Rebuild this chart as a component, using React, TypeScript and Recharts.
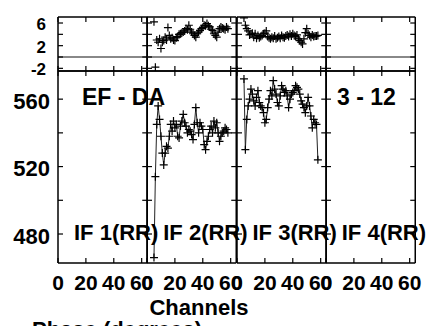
import React from "react";
import { ComposedChart, Line, XAxis, YAxis, ReferenceLine } from "recharts";

// channel axis (same for every IF)
const channels = [
  5, 6, 7, 8, 9, 10, 11, 12, 13, 14, 15, 16, 17, 18, 19, 20, 21, 22, 23, 24, 25, 26, 27, 28, 29, 30, 31,
  32, 33, 34, 35, 36, 37, 38, 39, 40, 41, 42, 43, 44, 45, 46, 47, 48, 49, 50, 51, 52, 53, 54, 55, 56, 57, 58,
];

// IF 2 amplitude / phase
const if2Amp = [
  466, 514, 545, 556, 548, 538, 528, 521, 528, 532, 531, 538, 545, 541, 547, 543, 545, 538, 537, 544,
  547, 551, 546, 544, 540, 542, 541, 539, 536, 545, 555, 546, 540, 546, 544, 542, 533, 530, 535, 538,
  542, 544, 540, 547, 543, 546, 540, 535, 538, 540, 541, 543, 542, 540,
];
const if2Phase = [
  6.2, -1.8, 3.0, 2.6, 3.2, 1.5, 2.6, 2.9, 3.5, 3.0, 5.2, 3.8, 3.2, 3.4, 3.0, 2.9, 3.4, 3.6, 4.0, 4.1,
  4.3, 4.4, 4.6, 5.0, 4.8, 5.6, 4.9, 4.4, 4.1, 3.8, 3.5, 4.1, 4.4, 4.7, 5.0, 5.2, 5.6, 5.5, 5.9, 5.5,
  5.3, 4.9, 4.7, 4.1, 3.8, 3.5, 4.4, 5.0, 5.3, 5.1, 5.0, 4.8, 5.3, 5.0,
];

// IF 3 amplitude / phase
const if3Amp = [
  572, 530, 548, 556, 560, 566, 563, 559, 556, 561, 565, 558, 556, 555, 552, 546, 548, 555, 560, 565,
  562, 571, 566, 563, 558, 556, 562, 568, 566, 564, 565, 562, 555, 560, 563, 564, 565, 568, 567, 566,
  563, 559, 557, 555, 552, 556, 561, 556, 550, 543, 548, 546, 545, 524,
];
const if3Phase = [
  6.9, 5.6, 5.0, 4.6, 3.9, 4.0, 4.2, 3.5, 4.1, 3.3, 3.8, 3.4, 3.6, 3.8, 4.1, 4.2, 4.6, 3.6, 3.4, 3.2,
  3.5, 3.3, 3.7, 3.2, 3.4, 3.6, 3.3, 3.8, 3.5, 3.4, 3.7, 3.9, 3.6, 4.0, 3.7, 4.1, 3.8, 3.6, 3.9, 3.2,
  2.9, 2.6, 2.3, 3.2, 4.3, 5.0, 4.1, 3.8, 3.5, 3.9, 3.6, 3.7, 3.7, 3.8,
];

const ifLabels = ["IF 1(RR)", "IF 2(RR)", "IF 3(RR)", "IF 4(RR)"];
const xTicks = [0, 20, 40, 60];
const ampTicks = [480, 500, 520, 540, 560];
const ampLabelTicks = [480, 520, 560];
const phaseTicks = [-2, 0, 2, 4, 6];
const phaseLabelTicks = [-2, 2, 6];

const ampDomain: [number, number] = [462.8, 576.7];
const phaseDomain: [number, number] = [-2.47, 7.06];
const chDomain: [number, number] = [0, 64];

const FONT = '"Liberation Sans", Arial, Helvetica, sans-serif';
const PLOT_LEFT = 58;
const PANEL_W = 89.25;
const PHASE_TOP = 17;
const PHASE_H = 54;
const AMP_TOP = 71;
const AMP_H = 192;
const TICK = 5;

type Row = { ch: number; amp?: number; phase?: number };

const makeRows = (amp: number[], phase: number[]): Row[] =>
  channels.map((ch, i) => ({ ch, amp: amp[i], phase: phase[i] }));
const emptyRows: Row[] = channels.map((ch) => ({ ch }));

const panels: { rows: Row[]; hasData: boolean }[] = [
  { rows: emptyRows, hasData: false },
  { rows: makeRows(if2Amp, if2Phase), hasData: true },
  { rows: makeRows(if3Amp, if3Phase), hasData: true },
  { rows: emptyRows, hasData: false },
];

function Plus(props: any) {
  const { cx, cy, value } = props;
  if (value == null || cx == null || cy == null) return <g />;
  return (
    <path
      d={`M${cx - 4},${cy}H${cx + 4}M${cx},${cy - 4}V${cy + 4}`}
      stroke="#000"
      strokeWidth={1.2}
      fill="none"
    />
  );
}

// inward tick mark drawn at the axis' own coordinate for the tick
const markTick = (side: "l" | "r" | "t" | "b", edge: number) => (props: any) => {
  const c = props?.payload?.coordinate;
  if (c == null) return <g />;
  const s = { stroke: "#000", strokeWidth: 1.2 };
  if (side === "l") return <line x1={edge} x2={edge + TICK} y1={c} y2={c} {...s} />;
  if (side === "r") return <line x1={edge - TICK} x2={edge} y1={c} y2={c} {...s} />;
  if (side === "t") return <line x1={c} x2={c} y1={edge} y2={edge + TICK} {...s} />;
  return <line x1={c} x2={c} y1={edge - TICK} y2={edge} {...s} />;
};

function Panel({ col, kind, rows, hasData }: { col: number; kind: "phase" | "amp"; rows: Row[]; hasData: boolean }) {
  const amp = kind === "amp";
  const first = col === 0;
  const plotLeft = PLOT_LEFT + col * PANEL_W;
  const plotTop = amp ? AMP_TOP : PHASE_TOP;
  const plotH = amp ? AMP_H : PHASE_H;
  const padL = first ? PLOT_LEFT : 14;
  const padR = 14;
  const padT = 6;
  const padB = amp ? 34 : 14;
  const domain = amp ? ampDomain : phaseDomain;
  const yTicks = amp ? ampTicks : phaseTicks;
  const line = { stroke: "#000", strokeWidth: 1.5 };

  return (
    <div style={{ position: "absolute", left: plotLeft - padL, top: plotTop - padT }}>
      <ComposedChart
        width={padL + PANEL_W + padR}
        height={padT + plotH + padB}
        data={rows}
        margin={{ top: padT, right: padR, bottom: amp ? 0 : padB, left: first ? 0 : padL }}
      >
        <XAxis xAxisId="b" dataKey="ch" type="number" domain={chDomain} ticks={xTicks} orientation="bottom"
          mirror interval={0} tick={markTick("b", padT + plotH)} tickLine={false} axisLine={line} allowDataOverflow />
        <XAxis xAxisId="t" dataKey="ch" type="number" domain={chDomain} ticks={xTicks} orientation="top"
          mirror interval={0} tick={markTick("t", padT)} tickLine={false} axisLine={line} allowDataOverflow />
        <YAxis yAxisId="l" type="number" domain={domain} ticks={yTicks} orientation="left"
          mirror interval={0} tick={markTick("l", padL)} tickLine={false} axisLine={line} allowDataOverflow />
        <YAxis yAxisId="r" type="number" domain={domain} ticks={yTicks} orientation="right"
          mirror interval={0} tick={markTick("r", padL + PANEL_W)} tickLine={false} axisLine={line} allowDataOverflow />
        {first && (
          <YAxis yAxisId="lab" type="number" domain={domain} ticks={amp ? ampLabelTicks : phaseLabelTicks}
            orientation="left" width={PLOT_LEFT} axisLine={false} tickLine={false} interval={0}
            tickMargin={amp ? 2 : 6} allowDataOverflow
            tick={{ fill: "#000", fontSize: amp ? 22 : 17, fontWeight: 700, fontFamily: FONT, dy: amp ? 2 : 1 }} />
        )}
        {amp && (
          <XAxis xAxisId="lab" dataKey="ch" type="number" domain={chDomain} ticks={xTicks} orientation="bottom"
            height={padB} axisLine={false} tickLine={false} interval={0} tickMargin={6} allowDataOverflow
            tick={{ fill: "#000", fontSize: 21, fontWeight: 700, fontFamily: FONT }} />
        )}
        {!amp && <ReferenceLine xAxisId="b" yAxisId="l" y={0} stroke="#888" strokeWidth={2} />}
        {hasData && amp && (
          <Line xAxisId="b" yAxisId="l" dataKey="amp" type="linear" stroke="#222" strokeWidth={1}
            dot={<Plus />} isAnimationActive={false} />
        )}
        {hasData && !amp && (
          <Line xAxisId="b" yAxisId="l" dataKey="phase" type="linear" stroke="none"
            dot={<Plus />} isAnimationActive={false} />
        )}
      </ComposedChart>
    </div>
  );
}

export default function App() {
  return (
    <div
      style={{
        position: "absolute",
        left: 0,
        top: 0,
        width: 430,
        height: 326,
        overflow: "hidden",
        background: "#fff",
        fontFamily: FONT,
      }}
    >
      {panels.map((p, i) => (
        <React.Fragment key={i}>
          <Panel col={i} kind="phase" rows={p.rows} hasData={p.hasData} />
          <Panel col={i} kind="amp" rows={p.rows} hasData={p.hasData} />
        </React.Fragment>
      ))}
      <svg width={430} height={326} style={{ position: "absolute", left: 0, top: 0, pointerEvents: "none" }}>
        <g fontFamily={FONT} fontWeight={700} fill="#000">
          <text x={82} y={105} fontSize={23}>EF - DA</text>
          <text x={337} y={105} fontSize={23}>3 - 12</text>
          {ifLabels.map((lab, i) => (
            <text key={lab} x={74 + i * PANEL_W} y={240} fontSize={22}>{lab}</text>
          ))}
          <text x={199} y={315} fontSize={22} textAnchor="middle">Channels</text>
          <text x={32} y={337} fontSize={22}>Phase (degrees)</text>
        </g>
      </svg>
    </div>
  );
}
